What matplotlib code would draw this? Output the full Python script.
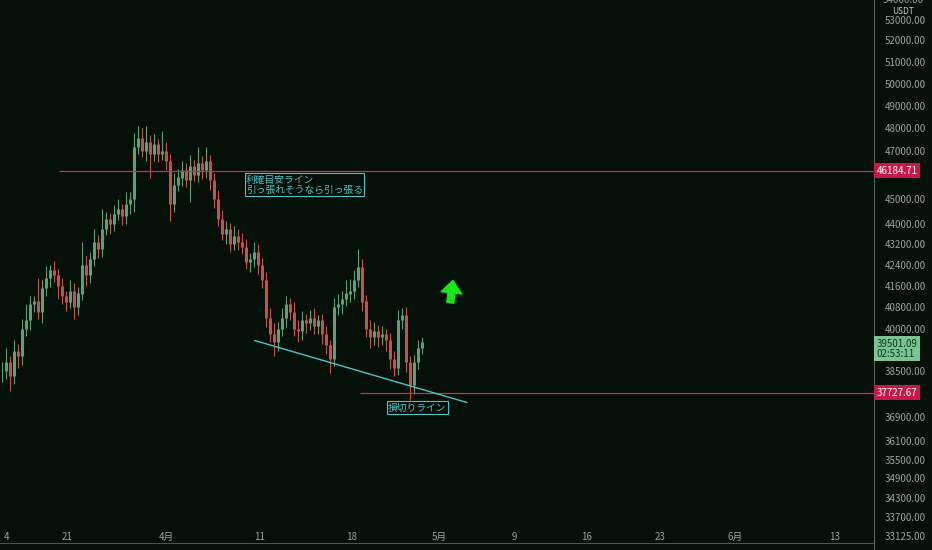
import numpy as np
import matplotlib.pyplot as plt
from matplotlib.ticker import FixedLocator, NullLocator

plt.rcParams['font.family'] = ['Noto Sans CJK JP', 'DejaVu Sans']

# closing prices (1 bar per 4 px in the reference)
closes = [38500, 38800, 38300, 39200, 39000, 40000, 40300, 40900, 41000, 40600,
          41500, 41900, 42200, 42000, 41600, 41200, 41000, 41400, 40800, 41300,
          42400, 42000, 42600, 43300, 43000, 43800, 44200, 44000, 44400, 44600,
          44300, 44800, 45000, 47200, 47600, 47000, 47400, 46900, 47300, 46900,
          47000, 46600, 44800, 45600, 45900, 46200, 45800, 46400, 46000, 46500,
          46200, 46600, 45800, 45000, 44200, 43600, 43800, 43200, 43500, 43300,
          43100, 42500, 42600, 42900, 42400, 41800, 40400, 39800, 39500, 40000,
          40400, 40900, 40600, 40000, 39900, 40300, 40200, 40400, 40100, 40300,
          39800, 39400, 38900, 40800, 40900, 41100, 41300, 41400, 41800, 42300,
          41000, 40000, 39700, 39900, 39700, 39800, 39600, 38900, 38600, 40300,
          40500, 38800, 38000, 38800, 39300, 39501]
wick_hi = [300, 500, 200, 400, 250, 350, 600, 300, 200, 900,
           300, 450, 200, 350, 250, 300, 200, 400, 300, 250,
           900, 350, 300, 500, 250, 800, 300, 250, 350, 400,
           200, 500, 300, 600, 500, 400, 700, 300, 450, 250,
           900, 400, 300, 500, 350, 400, 300, 450, 250, 700,
           300, 600, 250, 300, 400, 350, 300, 250, 400, 300,
           350, 300, 250, 400, 300, 250, 300, 350, 400, 250,
           350, 300, 250, 400, 300, 350, 250, 300, 350, 200,
           250, 300, 200, 350, 400, 300, 500, 450, 400, 700,
           300, 250, 300, 350, 250, 300, 200, 250, 300, 400,
           250, 300, 200, 250, 300, 200]
wick_lo = [400, 300, 500, 250, 400, 300, 250, 350, 300, 250,
           400, 300, 350, 250, 500, 300, 350, 250, 450, 300,
           250, 400, 300, 250, 350, 300, 250, 400, 300, 250,
           350, 300, 400, 500, 300, 250, 400, 1000, 300, 350,
           250, 400, 700, 300, 250, 350, 300, 900, 250, 300,
           350, 300, 400, 350, 300, 250, 400, 300, 250, 350,
           300, 250, 400, 300, 350, 300, 350, 300, 500, 300,
           250, 350, 300, 250, 400, 300, 350, 250, 300, 300,
           350, 300, 500, 250, 300, 350, 250, 300, 300, 250,
           350, 300, 400, 300, 350, 300, 400, 350, 300, 250,
           300, 350, 500, 300, 250, 200]

price_ticks = [33125, 33700, 34300, 34900, 35500, 36100, 36900, 38500,
               40000, 40800, 41600, 42400, 43200, 44000, 45000, 47000,
               48000, 49000, 50000, 51000, 52000, 53000]
date_labels = ['4', '21', '4月', '11', '18', '5月', '9', '16', '23', '6月', '13']
date_pos = [1.2, 16.2, 41.2, 64.5, 87.5, 109.2, 128, 146.2, 164.5, 183.2, 208.2]

take_profit = 46184.71
stop_loss = 37727.67
last_price = 39501.09
trend_line = [(63.2, 39570), (116.2, 37400)]

bg = '#041008'
up_c = '#5e9e78'
dn_c = '#c5524d'
cyan = '#4fc3c8'
red_line = '#d8265a'
tick_c = '#9aa39e'

fig = plt.figure(figsize=(9.32, 5.5), dpi=100, facecolor=bg)
ax = fig.add_axes([0, 0, 874 / 932, 1], facecolor=bg)
ax.set_yscale('log')
ax.set_ylim(32700, 53950)
ax.set_xlim(-0.5, 218)

opens = [closes[0]] + closes[:-1]
for i, (o, c) in enumerate(zip(opens, closes)):
    col = up_c if c >= o else dn_c
    hi = max(o, c) + wick_hi[i]
    lo = min(o, c) - wick_lo[i]
    ax.vlines(i, lo, hi, color=col, lw=0.8)
    ax.vlines(i, min(o, c), max(o, c) + 1, color=col, lw=2.2)

# horizontal levels
ax.hlines(take_profit, 14.2, 218, color=red_line, lw=0.9)
ax.hlines(stop_loss, 89.5, 218, color=red_line, lw=0.9)
ax.plot([p[0] for p in trend_line], [p[1] for p in trend_line], color=cyan, lw=1)

box = dict(boxstyle='square,pad=0.15', fc=bg, ec=cyan, lw=0.8)
ax.text(61, 45600, '利確目安ライン\n引っ張れそうなら引っ張る', color=cyan, fontsize=7,
        linespacing=0.95, bbox=box, va='center', ha='left')
ax.text(96.5, 37230, '損切りライン', color=cyan, fontsize=7, bbox=box,
        va='center', ha='left')

# green arrow
ax.annotate('', xy=(112.8, 41900), xytext=(112, 40850),
            arrowprops=dict(arrowstyle='simple,head_width=1.5,head_length=0.9,tail_width=0.5',
                            fc='#19e619', ec='#19e619'))

# right axis
ax.yaxis.tick_right()
ax.yaxis.set_major_locator(FixedLocator(price_ticks))
ax.yaxis.set_minor_locator(NullLocator())
ax.set_yticklabels([f'{t:.2f}' for t in price_ticks])
ax.tick_params(axis='y', colors=tick_c, labelsize=7, length=0, pad=8)
ax.xaxis.set_major_locator(FixedLocator(date_pos))
ax.set_xticklabels(date_labels)
ax.tick_params(axis='x', colors=tick_c, labelsize=7, length=0, direction='in', pad=-13)
for s in ['top', 'left', 'bottom']:
    ax.spines[s].set_visible(False)
ax.spines['right'].set_color('#5a6660')
ax.spines['right'].set_linewidth(0.8)
ax.axhline(32900, color='#5a6660', lw=0.6)

def price_tag(y, text, fc, tc):
    ax.text(1.003, y, text, transform=ax.get_yaxis_transform(), fontsize=7,
            color=tc, va='center', ha='left', linespacing=1.0,
            bbox=dict(boxstyle='square,pad=0.25', fc=fc, ec='none'))

price_tag(take_profit, '46184.71', '#c8184a', '#ffffff')
price_tag(stop_loss, '37727.67', '#c8184a', '#ffffff')
price_tag(last_price - 220, '39501.09\n02:53:11', '#7cc494', '#0a3a1a')
xr = 1 + 29 / 874
ax.text(xr, 1 - 11 / 550, 'USDT', transform=ax.transAxes, fontsize=6, color='#c0c8c4',
        ha='center', va='center')
ax.text(xr, 1.0, '54000.00', transform=ax.transAxes, fontsize=7, color=tick_c,
        ha='center', va='center', clip_on=False)

fig.savefig('out.png', dpi=100, facecolor=bg)
